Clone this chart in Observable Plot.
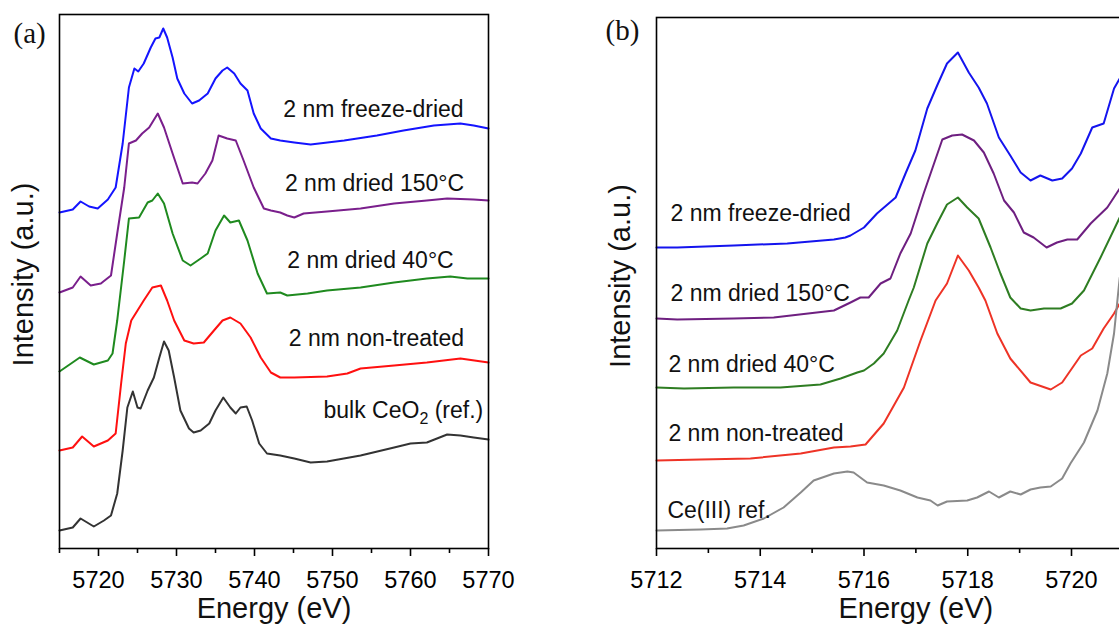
<!DOCTYPE html>
<html><head><meta charset="utf-8">
<script src="https://cdn.jsdelivr.net/npm/d3@7"></script>
<script src="https://cdn.jsdelivr.net/npm/@observablehq/plot@0.6"></script>
<style>
html,body{margin:0;padding:0;background:#fff;overflow:hidden;width:1119px;height:628px}
#a,#b{position:absolute;top:0;width:597px;height:628px}
#a{left:0}
#b{left:597px}
svg{max-width:none !important}
</style></head>
<body>
<div id="a"></div><div id="b"></div>
<script>
// ---------- Panel (a): full XANES, [energy eV, intensity a.u.] ----------
const aFreezeDried = [[5715.0,3.36],[5716.7,3.39],[5717.7,3.47],[5718.8,3.42],[5719.9,3.40],[5721.2,3.49],[5722.2,3.61],[5723.1,4.05],[5723.9,4.61],[5724.6,4.80],[5725.1,4.77],[5725.8,4.85],[5726.7,5.01],[5727.3,5.10],[5727.8,5.11],[5728.3,5.20],[5728.8,5.11],[5729.5,4.91],[5730.1,4.70],[5731.0,4.55],[5732.0,4.45],[5732.9,4.48],[5734.0,4.55],[5735.0,4.70],[5735.9,4.78],[5736.5,4.81],[5737.4,4.75],[5738.2,4.65],[5739.1,4.58],[5739.9,4.35],[5740.8,4.20],[5742.1,4.10],[5743.3,4.08],[5745.1,4.06],[5747.2,4.04],[5751.5,4.08],[5755.7,4.13],[5759.1,4.18],[5763.0,4.23],[5766.4,4.25],[5768.1,4.23],[5770.0,4.20]];
const aDried150 = [[5715.0,2.56],[5716.7,2.61],[5717.7,2.72],[5719.0,2.63],[5720.3,2.65],[5721.6,2.73],[5722.4,3.15],[5723.3,3.61],[5723.9,4.05],[5724.8,4.08],[5725.6,4.15],[5726.5,4.21],[5727.6,4.35],[5728.4,4.21],[5729.5,3.95],[5730.8,3.65],[5732.0,3.66],[5732.7,3.65],[5733.7,3.75],[5734.6,3.88],[5735.4,4.13],[5736.5,4.10],[5737.6,4.08],[5738.6,3.88],[5739.9,3.61],[5741.2,3.40],[5742.1,3.38],[5743.3,3.36],[5744.2,3.33],[5745.1,3.31],[5746.3,3.35],[5749.3,3.37],[5753.6,3.40],[5757.9,3.45],[5762.1,3.48],[5764.7,3.50],[5768.1,3.49],[5770.0,3.48]];
const aDried40 = [[5715.0,1.77],[5717.6,1.91],[5719.4,1.84],[5721.2,1.88],[5721.8,1.95],[5722.4,2.28],[5723.3,2.88],[5723.9,3.30],[5725.2,3.31],[5726.3,3.46],[5726.9,3.48],[5727.6,3.55],[5728.4,3.45],[5729.5,3.15],[5730.8,2.88],[5731.8,2.83],[5733.1,2.90],[5734.0,2.95],[5735.0,3.18],[5736.1,3.33],[5736.9,3.26],[5738.0,3.28],[5739.1,3.08],[5740.4,2.75],[5741.6,2.55],[5743.3,2.56],[5744.2,2.53],[5746.8,2.55],[5749.3,2.58],[5753.6,2.61],[5757.9,2.66],[5762.1,2.70],[5765.1,2.72],[5767.3,2.70],[5770.0,2.70]];
const aNonTreated = [[5715.0,0.98],[5716.7,1.01],[5717.9,1.12],[5719.4,1.02],[5721.2,1.08],[5722.2,1.15],[5722.9,1.65],[5723.5,2.05],[5724.2,2.28],[5725.0,2.38],[5725.8,2.48],[5726.9,2.61],[5728.0,2.63],[5728.8,2.48],[5729.7,2.28],[5731.0,2.08],[5732.2,2.05],[5733.5,2.06],[5734.8,2.18],[5735.9,2.28],[5736.9,2.31],[5738.2,2.25],[5739.5,2.11],[5740.8,1.91],[5742.1,1.76],[5743.3,1.71],[5745.1,1.71],[5749.3,1.72],[5751.9,1.75],[5753.6,1.80],[5757.9,1.83],[5762.1,1.86],[5766.4,1.90],[5770.0,1.86]];
const aBulkCeO2 = [[5715.0,0.18],[5716.7,0.21],[5717.7,0.30],[5719.4,0.22],[5720.7,0.28],[5721.6,0.33],[5722.4,0.55],[5723.1,0.98],[5723.7,1.41],[5724.4,1.57],[5725.0,1.41],[5725.4,1.40],[5726.3,1.58],[5727.1,1.71],[5727.8,1.91],[5728.4,2.07],[5729.0,1.98],[5729.7,1.71],[5730.5,1.38],[5731.6,1.20],[5732.2,1.16],[5733.1,1.18],[5734.2,1.25],[5735.0,1.38],[5736.0,1.51],[5736.9,1.41],[5737.6,1.35],[5738.2,1.41],[5739.0,1.42],[5739.7,1.28],[5740.6,1.05],[5741.6,0.95],[5743.3,0.93],[5745.1,0.90],[5747.2,0.86],[5749.3,0.87],[5753.6,0.93],[5757.9,1.01],[5760.0,1.05],[5762.1,1.06],[5764.7,1.14],[5766.4,1.13],[5768.1,1.11],[5770.0,1.09]];

const aNames = ["2 nm freeze-dried","2 nm dried 150°C","2 nm dried 40°C","2 nm non-treated","bulk CeO2 (ref.)"];
const aColors = ["#1414ff","#7a1f8c","#1f8a1f","#ff1010","#333333"];
const aSeries = [aFreezeDried, aDried150, aDried40, aNonTreated, aBulkCeO2];
// label anchors (energy, intensity) for the in-plot text
const aLabelE = [5743.7,5743.9,5744.2,5744.4,5748.85];
const aLabelI = [4.32,3.58,2.81,2.03,1.31];
const aMajorTicks = [5720,5730,5740,5750,5760,5770];
const aMinorTicks = [5715,5725,5735,5745,5755,5765];

// ---------- Panel (b): pre-edge region ----------
const bFreezeDried = [[5712.0,3.01],[5712.4,3.01],[5713.49,3.03],[5714.52,3.05],[5715.42,3.09],[5715.64,3.11],[5715.74,3.13],[5716.0,3.21],[5716.25,3.35],[5716.61,3.51],[5716.8,3.75],[5716.99,3.98],[5717.22,4.40],[5717.41,4.63],[5717.6,4.85],[5717.81,4.96],[5718.02,4.76],[5718.21,4.61],[5718.37,4.45],[5718.6,4.11],[5718.82,3.93],[5719.02,3.76],[5719.21,3.68],[5719.4,3.73],[5719.63,3.68],[5719.82,3.70],[5720.01,3.80],[5720.18,3.95],[5720.4,4.21],[5720.62,4.25],[5720.82,4.60],[5720.93,4.70]];
const bDried150 = [[5712.0,2.30],[5712.4,2.29],[5713.49,2.30],[5714.26,2.31],[5715.42,2.38],[5715.74,2.46],[5715.93,2.51],[5716.09,2.51],[5716.32,2.65],[5716.51,2.70],[5716.7,2.95],[5716.9,3.15],[5717.15,3.55],[5717.51,4.09],[5717.7,4.13],[5717.89,4.14],[5718.12,4.08],[5718.31,3.96],[5718.5,3.75],[5718.7,3.48],[5718.89,3.36],[5719.08,3.16],[5719.27,3.11],[5719.52,3.01],[5719.72,3.06],[5719.92,3.09],[5720.11,3.09],[5720.37,3.25],[5720.69,3.41],[5720.93,3.60]];
const bDried40 = [[5712.0,1.61],[5712.53,1.60],[5713.49,1.61],[5714.39,1.61],[5715.16,1.64],[5715.55,1.70],[5715.87,1.76],[5716.0,1.78],[5716.19,1.85],[5716.38,1.95],[5716.64,2.18],[5716.86,2.48],[5716.96,2.61],[5717.22,3.05],[5717.41,3.25],[5717.6,3.44],[5717.81,3.51],[5717.99,3.41],[5718.21,3.30],[5718.44,3.01],[5718.63,2.75],[5718.82,2.51],[5719.02,2.40],[5719.21,2.38],[5719.47,2.40],[5719.79,2.40],[5720.01,2.45],[5720.24,2.58],[5720.56,2.91],[5720.93,3.31]];
const bNonTreated = [[5712.0,0.88],[5712.85,0.89],[5713.81,0.90],[5714.78,0.95],[5715.42,1.01],[5715.74,1.02],[5716.03,1.04],[5716.38,1.25],[5716.77,1.61],[5717.09,2.08],[5717.38,2.48],[5717.6,2.65],[5717.81,2.93],[5718.02,2.78],[5718.21,2.61],[5718.34,2.48],[5718.57,2.15],[5718.82,1.90],[5719.21,1.66],[5719.6,1.59],[5719.82,1.66],[5720.18,1.93],[5720.4,2.00],[5720.62,2.20],[5720.82,2.35],[5720.93,2.45]];
const bCeIII = [[5712.0,0.18],[5712.85,0.19],[5713.36,0.20],[5713.68,0.23],[5714.07,0.30],[5714.45,0.41],[5714.78,0.56],[5715.03,0.68],[5715.42,0.75],[5715.68,0.77],[5715.8,0.76],[5716.06,0.66],[5716.38,0.63],[5716.7,0.58],[5717.03,0.51],[5717.28,0.48],[5717.42,0.43],[5717.6,0.47],[5717.99,0.48],[5718.18,0.51],[5718.41,0.57],[5718.6,0.51],[5718.82,0.57],[5719.02,0.54],[5719.21,0.59],[5719.4,0.61],[5719.6,0.62],[5719.82,0.70],[5719.98,0.85],[5720.24,1.06],[5720.5,1.38],[5720.69,1.75],[5720.82,2.15],[5720.93,2.71]];

const bNames = ["2 nm freeze-dried","2 nm dried 150°C","2 nm dried 40°C","2 nm non-treated","Ce(III) ref."];
const bColors = ["#1414ee","#6e1f80","#2e7d22","#ee3326","#8a8a8a"];
const bSeries = [bFreezeDried, bDried150, bDried40, bNonTreated, bCeIII];
const bLabelE = [5712.27,5712.27,5712.23,5712.23,5712.21];
const bLabelI = [3.28,2.48,1.77,1.08,0.31];
const bMajorTicks = [5712,5714,5716,5718,5720];
const bMinorTicks = [5713,5715,5717,5719,5721];

const SANS = "'Liberation Sans', Arial, Helvetica, sans-serif";
const SERIF = "'Liberation Serif', 'Times New Roman', serif";

function tidy(series, names, colors) {
  return series.flatMap((pts, k) => pts.map(([e, v]) => ({e, v, name: names[k], color: colors[k]})));
}
function labels(names, E, I) {
  return names.map((n, k) => ({text: n, e: E[k], v: I[k]}));
}

function panel({series, names, colors, labE, labI, xDomain, yDomain, major, minor, marginTop, marginRight, tag, tagDx, tagDy}) {
  return Plot.plot({
    width: 597, height: 628,
    marginLeft: 59, marginRight, marginTop, marginBottom: 80,
    x: {domain: xDomain},
    y: {domain: yDomain, axis: null},
    style: {fontFamily: SANS, fontSize: "23.5px", color: "black", background: "transparent", overflow: "visible", maxWidth: "none"},
    marks: [
      Plot.line(tidy(series, names, colors), {x: "e", y: "v", z: "name", stroke: "color", strokeWidth: 2, strokeLinejoin: "round"}),
      Plot.frame({stroke: "black", strokeWidth: 1.6}),
      Plot.axisX({ticks: major, tickSize: 8, tickPadding: 15, tickFormat: d => String(d), label: null, strokeWidth: 1.6}),
      Plot.axisX({ticks: minor, tickSize: 5, tickFormat: () => "", label: null, strokeWidth: 1.6}),
      Plot.text(labels(names, labE, labI), {x: "e", y: "v", text: "text", textAnchor: "start", lineAnchor: "bottom", fontSize: 23, fill: "#111"}),
      Plot.text(["Energy (eV)"], {text: d => d, frameAnchor: "bottom", textAnchor: "middle", lineAnchor: "bottom", dy: 69, fontSize: 29, fill: "#111"}),
      Plot.text(["Intensity (a.u.)"], {text: d => d, frameAnchor: "left", textAnchor: "middle", lineAnchor: "middle", rotate: -90, dx: -36, dy: -7, fontSize: 29, fill: "#111"}),
      Plot.text([tag], {text: d => d, frameAnchor: "top-left", textAnchor: "start", lineAnchor: "top", dx: tagDx, dy: tagDy, fontSize: 29, fontFamily: SERIF, fill: "#111"})
    ]
  });
}

const plotA = panel({series: aSeries, names: aNames, colors: aColors, labE: aLabelE, labI: aLabelI,
  xDomain: [5715, 5770], yDomain: [0, 5.34], major: aMajorTicks, minor: aMinorTicks,
  marginTop: 14, marginRight: 109, tag: "(a)", tagDx: -46, tagDy: 8});
const plotB = panel({series: bSeries, names: bNames, colors: bColors, labE: bLabelE, labI: bLabelI,
  xDomain: [5712, 5722], yDomain: [0, 5.31], major: bMajorTicks, minor: bMinorTicks,
  marginTop: 17, marginRight: 19.25, tag: "(b)", tagDx: -51, tagDy: 2});

document.getElementById("a").appendChild(plotA);
document.getElementById("b").appendChild(plotB);

// subscript for CeO2
d3.select(plotA).selectAll("text").filter(function() { return this.textContent === "bulk CeO2 (ref.)"; })
  .each(function() {
    const t = d3.select(this);
    t.text(null);
    t.append("tspan").text("bulk CeO");
    t.append("tspan").attr("dy", 6).attr("font-size", "16px").text("2");
    t.append("tspan").attr("dy", -6).text(" (ref.)");
  });
</script>
</body></html>
